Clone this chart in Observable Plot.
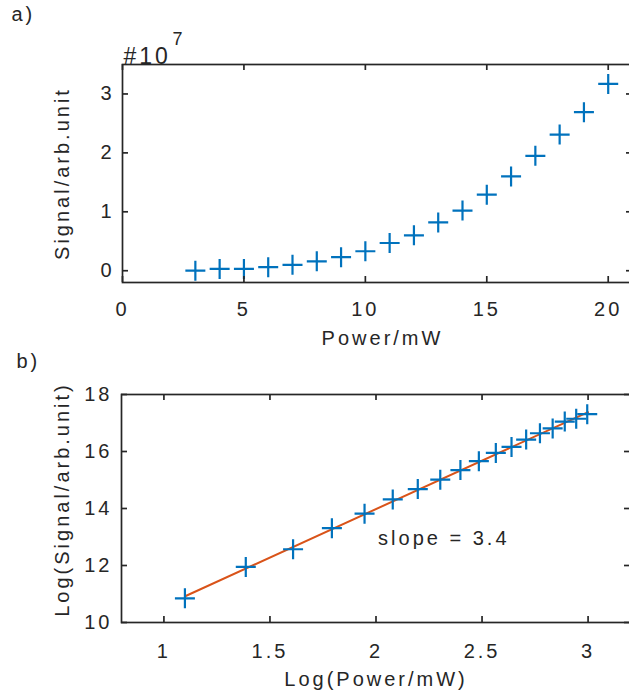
<!DOCTYPE html>
<html><head><meta charset="utf-8">
<script src="https://cdn.jsdelivr.net/npm/d3@7"></script>
<script src="https://cdn.jsdelivr.net/npm/@observablehq/plot@0.6"></script>
<style>
html,body{margin:0;padding:0;background:#fff;}
#wrap{position:relative;width:629px;height:695px;overflow:hidden;background:#fff;}
#a,#b{position:absolute;left:0;width:640px;}
#a{top:0px}
#b{top:345px}
</style></head><body>
<div id="wrap"><div id="a"></div><div id="b"></div></div>
<script>
// ---- data ----
const powerMW   = [3,4,5,6,7,8,9,10,11,12,13,14,15,16,17,18,19,20];
const signal1e7 = [0.00,0.03,0.03,0.06,0.10,0.16,0.23,0.33,0.47,0.60,0.82,1.02,1.29,1.60,1.95,2.31,2.69,3.17];
const logPower  = [1.099,1.386,1.609,1.792,1.946,2.079,2.197,2.303,2.398,2.485,2.565,2.639,2.708,2.773,2.833,2.890,2.944,2.996];
const logSignal = [10.85,11.95,12.57,13.31,13.82,14.32,14.68,15.01,15.35,15.66,15.95,16.16,16.42,16.64,16.81,17.05,17.15,17.31];
const fitLogPower  = [1.10, 3.00];
const fitLogSignal = [10.92, 17.38];
const slopeText = ["slope = 3.4"];
const slopeAtX = [2.01];
const slopeAtY = [12.94];
const xTicksA = [0,5,10,15,20];
const yTicksA = [0,1,2,3];
const xTicksB = [1,1.5,2,2.5,3];
const yTicksB = [10,12,14,16,18];

const ink = "#262626";
const blue = "#0072BD";
const orange = "#D95319";
const SW = 1.7, TICK = 6;
const plusSymbol = {
  draw(ctx, size) {
    const r = Math.sqrt(size / Math.PI);
    ctx.moveTo(-r, 0); ctx.lineTo(r, 0);
    ctx.moveTo(0, -r); ctx.lineTo(0, r);
  }
};
const baseStyle = {
  fontFamily: '"Liberation Sans", Arial, Helvetica, sans-serif',
  fontSize: "20px",
  letterSpacing: "3px",
  color: ink,
  background: "white",
  maxWidth: "none",
  overflow: "visible"
};
const fmt = d => `${d}`;

function panel({height, mt, mb, ml, mr, xDomain, yDomain, xTicks, yTicks, marks, xPad, yPad}) {
  const width = 640;
  const iw = width - ml - mr, ih = height - mt - mb;
  return Plot.plot({
    width, height, marginTop: mt, marginBottom: mb, marginLeft: ml, marginRight: mr,
    style: baseStyle,
    x: {domain: xDomain, label: null},
    y: {domain: yDomain, label: null},
    marks: [
      ...marks,
      Plot.ruleX(xTicks, {x: d => d, insetTop: ih - TICK, stroke: ink, strokeWidth: SW}),
      Plot.ruleX(xTicks, {x: d => d, insetBottom: ih - TICK, stroke: ink, strokeWidth: SW}),
      Plot.ruleY(yTicks, {y: d => d, insetRight: iw - TICK, stroke: ink, strokeWidth: SW}),
      Plot.ruleY(yTicks, {y: d => d, insetLeft: iw - TICK, stroke: ink, strokeWidth: SW}),
      Plot.axisX(xTicks, {tickSize: 0, tickPadding: xPad, label: null, tickFormat: fmt}),
      Plot.axisY(yTicks, {tickSize: 0, tickPadding: yPad, label: null, tickFormat: fmt}),
      Plot.frame({stroke: ink, strokeWidth: SW})
    ]
  });
}

const chartA = panel({
  height: 345, mt: 64, mb: 63, ml: 122, mr: 8,
  xDomain: [0, 21], yDomain: [-0.2, 3.5],
  xTicks: xTicksA, yTicks: yTicksA, xPad: 19, yPad: 8,
  marks: [
    Plot.dot(powerMW.map((p, i) => ({p, s: signal1e7[i]})), {x: "p", y: "s", symbol: plusSymbol, r: 10, fill: "none", stroke: blue, strokeWidth: 2.2}),
    Plot.text(["a)"], {frameAnchor: "top-left", dx: -111, dy: -44, textAnchor: "start", lineAnchor: "bottom", fill: ink, letterSpacing: 1}),
    Plot.text(["#10"], {frameAnchor: "top-left", dx: 1, dy: -1, textAnchor: "start", lineAnchor: "bottom", fill: ink, fontSize: 23, letterSpacing: 1}),
    Plot.text(["7"], {frameAnchor: "top-left", dx: 50, dy: -20, textAnchor: "start", lineAnchor: "bottom", fill: ink, fontSize: 18}),
    Plot.text(["Power/mW"], {frameAnchor: "bottom", dx: 5, dy: 56, textAnchor: "middle", lineAnchor: "middle", fill: ink}),
    Plot.text(["Signal/arb.unit"], {frameAnchor: "left", dx: -60, dy: 0, rotate: -90, textAnchor: "middle", lineAnchor: "middle", fill: ink})
  ]
});

const chartB = panel({
  height: 350, mt: 49, mb: 73, ml: 121, mr: 10,
  xDomain: [0.8, 3.2], yDomain: [10, 18],
  xTicks: xTicksB, yTicks: yTicksB, xPad: 21, yPad: 9,
  marks: [
    Plot.line(fitLogPower.map((x, i) => ({x, y: fitLogSignal[i]})), {x: "x", y: "y", stroke: orange, strokeWidth: 2}),
    Plot.dot(logPower.map((x, i) => ({x, y: logSignal[i]})), {x: "x", y: "y", symbol: plusSymbol, r: 10, fill: "none", stroke: blue, strokeWidth: 2.2}),
    Plot.text(slopeText, {x: slopeAtX, y: slopeAtY, textAnchor: "start", lineAnchor: "middle", fill: ink}),
    Plot.text(["b)"], {frameAnchor: "top-left", dx: -105, dy: -27, textAnchor: "start", lineAnchor: "bottom", fill: ink, letterSpacing: 1}),
    Plot.text(["Log(Power/mW)"], {frameAnchor: "bottom", dx: 0, dy: 57, textAnchor: "middle", lineAnchor: "middle", fill: ink}),
    Plot.text(["Log(Signal/arb.unit)"], {frameAnchor: "left", dx: -59, dy: -9, rotate: -90, textAnchor: "middle", lineAnchor: "middle", fill: ink, letterSpacing: 2.4})
  ]
});

document.getElementById("a").append(chartA);
document.getElementById("b").append(chartB);
</script>
</body></html>
